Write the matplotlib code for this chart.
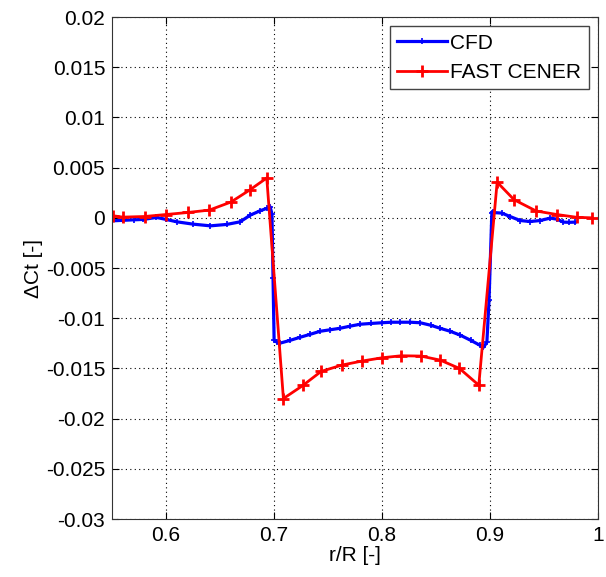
import matplotlib
matplotlib.use('Agg')
import matplotlib.pyplot as plt

plt.rcParams['font.family'] = ['Liberation Sans', 'DejaVu Sans']

# CFD (blue)
cfd_r = [0.550, 0.560, 0.570, 0.579, 0.591, 0.600, 0.610, 0.625, 0.641, 0.656,
         0.6685, 0.678, 0.687, 0.6932, 0.6963, 0.698, 0.699, 0.700, 0.7028, 0.7056,
         0.715, 0.724, 0.7335, 0.7426, 0.7520, 0.7611, 0.7700, 0.7796, 0.790, 0.800,
         0.8085, 0.8167, 0.826, 0.8352, 0.845, 0.8537, 0.863, 0.8722, 0.882, 0.8907,
         0.8938, 0.897, 0.899, 0.9016, 0.9025, 0.9108, 0.9185, 0.9278, 0.937, 0.9463,
         0.9556, 0.9617, 0.9679, 0.973, 0.9787]
cfd_dct = [-0.0003, -0.00025, -0.0002, -0.00016, 0.00004, -0.00016, -0.0004, -0.00063, -0.0008, -0.00066,
           -0.0004, 0.00027, 0.0007, 0.00094, 0.0011, 0.0004, -0.006, -0.0122, -0.0124, -0.01248,
           -0.0122, -0.0119, -0.0116, -0.0113, -0.01115, -0.0110, -0.0108, -0.0106, -0.01052, -0.01045,
           -0.0104, -0.0104, -0.0104, -0.01045, -0.0107, -0.0110, -0.0113, -0.01168, -0.0122, -0.0127,
           -0.0129, -0.0124, -0.0082, 0.0005, 0.00053, 0.00047, 0.00013, -0.00027, -0.00037, -0.00027,
           -0.00003, -0.00013, -0.00043, -0.00045, -0.00043]

# FAST CENER (red)
fast_r = [0.5512, 0.5599, 0.580, 0.600, 0.620, 0.640, 0.660, 0.6778, 0.6932,
          0.7086, 0.7266, 0.7435, 0.7627, 0.7812, 0.800, 0.8176, 0.8358, 0.8537, 0.8716, 0.8895,
          0.9065, 0.9222, 0.9426, 0.9617, 0.9803, 0.9941]
fast_dct = [0.0002, 0.00007, 0.00013, 0.00033, 0.00053, 0.00077, 0.00157, 0.0028, 0.00397,
            -0.0180, -0.0167, -0.0153, -0.01467, -0.01427, -0.01394, -0.01374, -0.01377, -0.01417, -0.0150, -0.01667,
            0.00355, 0.0018, 0.00068, 0.00033, 0.00005, 0.0]

xticks = [0.6, 0.7, 0.8, 0.9, 1.0]
xtick_labels = ['0.6', '0.7', '0.8', '0.9', '1']
yticks = [0.02, 0.015, 0.01, 0.005, 0, -0.005, -0.01, -0.015, -0.02, -0.025, -0.03]
ytick_labels = ['0.02', '0.015', '0.01', '0.005', '0', '-0.005', '-0.01', '-0.015', '-0.02', '-0.025', '-0.03']

fig = plt.figure(figsize=(6.06, 5.77), dpi=100)
ax = fig.add_axes([0.185, 0.1005, 0.802, 0.87])

ax.plot(cfd_r, cfd_dct, color='blue', linewidth=2.3, marker='+', markersize=4,
        markeredgewidth=1.2, label='CFD')
ax.plot(fast_r, fast_dct, color='red', linewidth=2, marker='+', markersize=8,
        markeredgewidth=2, label='FAST CENER')

ax.set_xlim(0.55, 1.0)
ax.set_ylim(-0.03, 0.02)
ax.set_xticks(xticks)
ax.set_xticklabels(xtick_labels)
ax.set_yticks(yticks)
ax.set_yticklabels(ytick_labels)
ax.tick_params(direction='in', top=True, right=True, labelsize=15, length=5, pad=5)
ax.grid(True, linestyle=(0, (1, 3)), color='black', linewidth=0.8)
for s in ax.spines.values():
    s.set_color('#333333')

ax.set_xlabel('r/R [-]', fontsize=15, labelpad=1)
ax.set_ylabel('ΔCt [-]', fontsize=15, labelpad=2)

leg = ax.legend(loc='upper right', fontsize=15, fancybox=False, framealpha=1,
                edgecolor='#444444', borderpad=0.35, labelspacing=0.5,
                handlelength=2.4, handletextpad=0.15, borderaxespad=0.45)
leg.get_frame().set_linewidth(1)

fig.savefig('out.png', dpi=100)
